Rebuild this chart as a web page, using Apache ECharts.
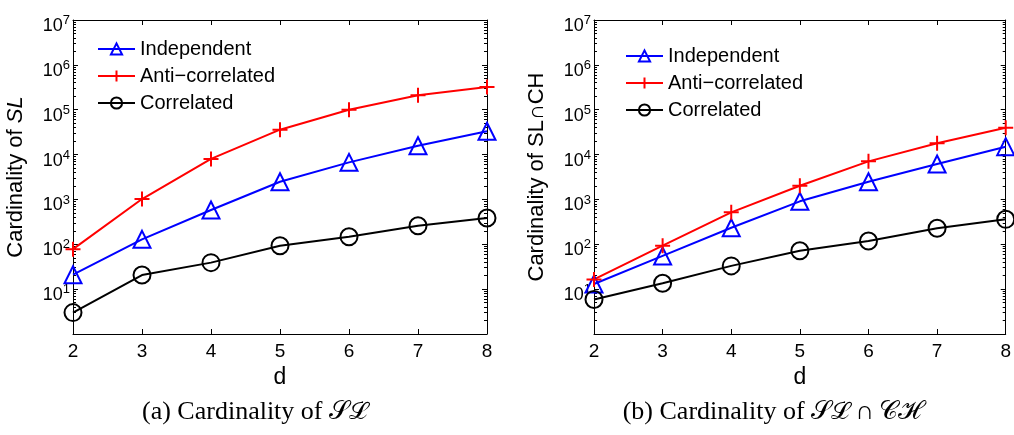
<!DOCTYPE html>
<html><head><meta charset="utf-8">
<script src="https://cdn.jsdelivr.net/npm/echarts@6/dist/echarts.min.js"></script>
<style>html,body{margin:0;padding:0;background:#fff}#c{width:1014px;height:435px}</style>
</head><body><div id="c"></div>
<script>
const dims = [2, 3, 4, 5, 6, 7, 8];
const seriesNames = ['Independent', 'Anti\u2212correlated', 'Correlated'];
// Panel (a): Cardinality of SL
const slIndependent = [21, 129, 580, 2480, 6700, 15700, 33000];
const slAnti = [78, 1020, 8000, 35900, 100000, 209000, 320000];
const slCorrelated = [3.0, 20.6, 39, 93, 147, 259, 385];
// Panel (b): Cardinality of SL ∩ CH
const chIndependent = [13, 55, 234, 908, 2480, 6150, 15000];
const chAnti = [16.5, 93, 515, 2020, 7060, 17800, 39600];
const chCorrelated = [5.9, 13.5, 33, 72, 118, 227, 360];
const yTickExponents = [1, 2, 3, 4, 5, 6, 7];

const font = 'Liberation Sans';
const plusPath = 'path://M0,5L10,5M5,0L5,10';

function pairs(vals){ return dims.map((d,i)=>[d, vals[i]]); }

function yLabel(v){
  const e = Math.round(Math.log10(v));
  if (!yTickExponents.includes(e)) return '';
  return '10{s|' + e + '}';
}

const grids = [
  {left: 73, right: 527, top: 20, bottom: 101},
  {left: 594, right: 8, top: 20, bottom: 101}
];

const xAxes = [], yAxes = [];
grids.forEach((g, gi) => {
  xAxes.push({
    type: 'value', gridIndex: gi, min: 2, max: 8, interval: 1, position: 'bottom',
    name: 'd', nameLocation: 'middle', nameGap: 31,
    nameTextStyle: {fontFamily: font, fontSize: 23, color: '#000'},
    axisLine: {lineStyle: {color: '#000', width: 1}},
    axisTick: {inside: true, length: 5, lineStyle: {color: '#000'}},
    axisLabel: {fontFamily: font, fontSize: 19, color: '#000', margin: 8},
    splitLine: {show: false}
  });
  xAxes.push({
    type: 'value', gridIndex: gi, min: 2, max: 8, interval: 1, position: 'top',
    axisLine: {lineStyle: {color: '#000', width: 1}},
    axisTick: {inside: true, length: 5, lineStyle: {color: '#000'}},
    axisLabel: {show: false}, splitLine: {show: false}
  });
  yAxes.push({
    type: 'log', logBase: 10, gridIndex: gi, min: 1, max: 1e7, position: 'left',
    name: gi === 0 ? 'Cardinality of {i|SL}' : 'Cardinality of SL\u2229CH',
    nameLocation: 'middle', nameGap: 46,
    nameTextStyle: {fontFamily: font, fontSize: 22, color: '#000',
      rich: {i: {fontFamily: font, fontSize: 22, fontStyle: 'italic', color: '#000'}}},
    axisLine: {show: true, lineStyle: {color: '#000', width: 1}},
    axisTick: {inside: true, length: 5, lineStyle: {color: '#000'}},
    minorTick: {show: true, splitNumber: 9, length: 3, lineStyle: {color: '#000'}},
    axisLabel: {fontFamily: font, fontSize: 18, color: '#000', margin: 3,
      padding: [12, 0, 0, 0],
      formatter: yLabel,
      rich: {s: {fontFamily: font, fontSize: 13, color: '#000', verticalAlign: 'bottom', padding: [0,0,11,0]}}},
    splitLine: {show: false}
  });
  yAxes.push({
    type: 'log', logBase: 10, gridIndex: gi, min: 1, max: 1e7, position: 'right',
    axisLine: {show: true, lineStyle: {color: '#000', width: 1}},
    axisTick: {inside: true, length: 5, lineStyle: {color: '#000'}},
    minorTick: {show: true, splitNumber: 9, length: 3, lineStyle: {color: '#000'}},
    axisLabel: {show: false}, splitLine: {show: false}
  });
});

const symbolOf = {tri: 'triangle', plus: plusPath, circ: 'circle'};

function mk(name, data, gi, color, key, size){
  return {
    type: 'line', name: name, data: pairs(data),
    xAxisIndex: gi*2, yAxisIndex: gi*2,
    symbol: symbolOf[key], symbolSize: size, showAllSymbol: true,
    lineStyle: {color: color, width: 2},
    itemStyle: {color: 'none', borderColor: color, borderWidth: 2},
    emphasis: {disabled: true}, animation: false
  };
}

const series = [
  mk(seriesNames[0], slIndependent, 0, '#0000ff', 'tri', 17),
  mk(seriesNames[1], slAnti, 0, '#ff0000', 'plus', 15),
  mk(seriesNames[2], slCorrelated, 0, '#000000', 'circ', 17),
  mk(seriesNames[0], chIndependent, 1, '#0000ff', 'tri', 17),
  mk(seriesNames[1], chAnti, 1, '#ff0000', 'plus', 15),
  mk(seriesNames[2], chCorrelated, 1, '#000000', 'circ', 17)
];

const legendBase = {
  orient: 'vertical', itemWidth: 37, itemHeight: 14, itemGap: 7,
  textStyle: {fontFamily: font, fontSize: 20, color: '#000'},
  data: seriesNames, selectedMode: false
};

const chart = echarts.init(document.getElementById('c'), null, {renderer: 'canvas'});
chart.setOption({
  backgroundColor: '#fff',
  animation: false,
  grid: grids,
  xAxis: xAxes,
  yAxis: yAxes,
  series: series,
  legend: [
    Object.assign({}, legendBase, {left: 92, top: 34}),
    Object.assign({}, legendBase, {left: 620, top: 41})
  ],
  graphic: [
    {type: 'text', x: 255, y: 412, style: {text: '(a) Cardinality of \u{1D4AE}\u2112', fontFamily: 'Liberation Serif', fontSize: 26, fill: '#000', align: 'center', verticalAlign: 'middle'}},
    {type: 'text', x: 772, y: 412, style: {text: '(b) Cardinality of \u{1D4AE}\u2112\u2009\u2229\u2009\u{1D49E}\u210B', fontFamily: 'Liberation Serif', fontSize: 26, fill: '#000', align: 'center', verticalAlign: 'middle'}}
  ]
});
</script></body></html>
